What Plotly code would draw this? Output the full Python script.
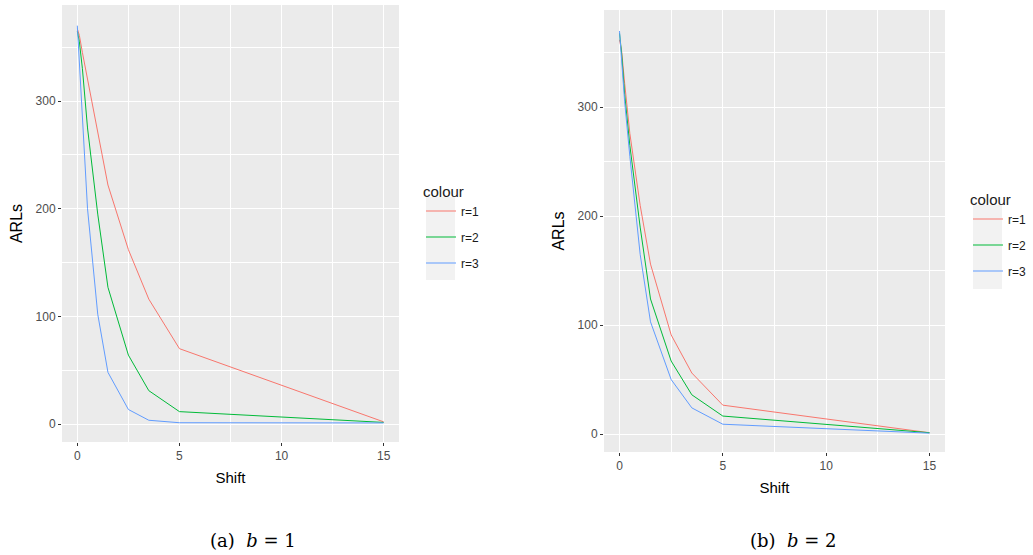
import plotly.graph_objects as go

shift = [0, 0.1, 0.25, 0.5, 1, 1.5, 2.5, 3.5, 5, 15]

# Panel (a) b = 1
a_r1 = [367, 361, 345, 320, 273, 222, 162, 116, 70, 2]
a_r2 = [365, 355, 330, 275, 195, 127, 64, 31, 11.5, 1.5]
a_r3 = [370, 335, 285, 200, 102, 48, 13.5, 3.5, 1.2, 1]

# Panel (b) b = 2
b_r1 = [362, 352, 322, 276, 210, 156, 91, 56, 26.5, 1.2]
b_r2 = [368, 350, 312, 265, 190, 124, 67, 36, 16.5, 1.2]
b_r3 = [370, 345, 305, 255, 165, 103, 50, 24, 9, 0.8]

labels = ["r=1", "r=2", "r=3"]
colors = ["#F8766D", "#00BA38", "#619CFF"]

W, H = 1033, 555

fig = go.Figure()

for i, (ys, lab) in enumerate(zip([a_r1, a_r2, a_r3], labels)):
    fig.add_trace(go.Scatter(x=shift, y=ys, mode="lines", name=lab,
                             line=dict(color=colors[i], width=1),
                             xaxis="x", yaxis="y", legend="legend",
                             legendgroup="a" + lab))
for i, (ys, lab) in enumerate(zip([b_r1, b_r2, b_r3], labels)):
    fig.add_trace(go.Scatter(x=shift, y=ys, mode="lines", name=lab,
                             line=dict(color=colors[i], width=1),
                             xaxis="x2", yaxis="y2", legend="legend2",
                             legendgroup="b" + lab))

def px_x(p):
    return p / W

def px_y(p):
    return 1 - p / H

axis_common = dict(
    showgrid=True, gridcolor="white", gridwidth=1.1, zeroline=False,
    ticks="outside", ticklen=3, tickcolor="#333333", tickwidth=1,
    tickfont=dict(family="Liberation Sans, Arial", size=12, color="#4D4D4D"),
    showline=False,
)
minor_x = dict(dtick=2.5, tick0=0, showgrid=True, gridcolor="white", gridwidth=0.5, ticks="")
minor_y = dict(dtick=50, tick0=0, showgrid=True, gridcolor="white", gridwidth=0.5, ticks="")

fig.update_layout(
    width=W, height=H,
    margin=dict(l=0, r=0, t=0, b=0),
    paper_bgcolor="white",
    plot_bgcolor="#EBEBEB",
    showlegend=True,
    font=dict(family="Liberation Sans, Arial", color="#000000"),
    xaxis=dict(domain=[px_x(62), px_x(399)], range=[-0.75, 15.75], anchor="y",
               tickvals=[0, 5, 10, 15], minor=minor_x,
               title=dict(text="Shift", font=dict(size=15), standoff=10), **axis_common),
    yaxis=dict(domain=[px_y(442), px_y(5)], range=[-16.7, 389.2], anchor="x",
               tickvals=[0, 100, 200, 300], minor=minor_y,
               title=dict(text="ARLs", font=dict(size=16), standoff=8), **axis_common),
    xaxis2=dict(domain=[px_x(604), px_x(945)], range=[-0.75, 15.75], anchor="y2",
                tickvals=[0, 5, 10, 15], minor=minor_x,
                title=dict(text="Shift", font=dict(size=15), standoff=10), **axis_common),
    yaxis2=dict(domain=[px_y(452), px_y(10)], range=[-16.5, 389.3], anchor="x2",
                tickvals=[0, 100, 200, 300], minor=minor_y,
                title=dict(text="ARLs", font=dict(size=16), standoff=8), **axis_common),
    legend=dict(title=dict(text="colour", font=dict(size=15)),
                x=px_x(421), y=px_y(177), xanchor="left", yanchor="top",
                bgcolor="rgba(0,0,0,0)", font=dict(size=12, color="#1a1a1a"),
                traceorder="grouped", tracegroupgap=7, itemwidth=30),
    legend2=dict(title=dict(text="colour", font=dict(size=15)),
                 x=px_x(968), y=px_y(185), xanchor="left", yanchor="top",
                 bgcolor="rgba(0,0,0,0)", font=dict(size=12, color="#1a1a1a"),
                 traceorder="grouped", tracegroupgap=7, itemwidth=30),
)

# legend key backgrounds (ggplot style)
fig.add_shape(type="rect", xref="paper", yref="paper",
              x0=px_x(426), x1=px_x(455), y0=px_y(280), y1=px_y(197),
              fillcolor="#F2F2F2", line=dict(width=0), layer="below")
fig.add_shape(type="rect", xref="paper", yref="paper",
              x0=px_x(973), x1=px_x(1002), y0=px_y(289), y1=px_y(205),
              fillcolor="#F2F2F2", line=dict(width=0), layer="below")

fig.add_annotation(text="(a)  <i>b</i> = 1", x=px_x(253), y=px_y(540),
                   xref="paper", yref="paper", showarrow=False,
                   xanchor="center", yanchor="middle",
                   font=dict(family="DejaVu Serif", size=18, color="black"))
fig.add_annotation(text="(b)  <i>b</i> = 2", x=px_x(793), y=px_y(540),
                   xref="paper", yref="paper", showarrow=False,
                   xanchor="center", yanchor="middle",
                   font=dict(family="DejaVu Serif", size=18, color="black"))

fig.write_html("out.html")
